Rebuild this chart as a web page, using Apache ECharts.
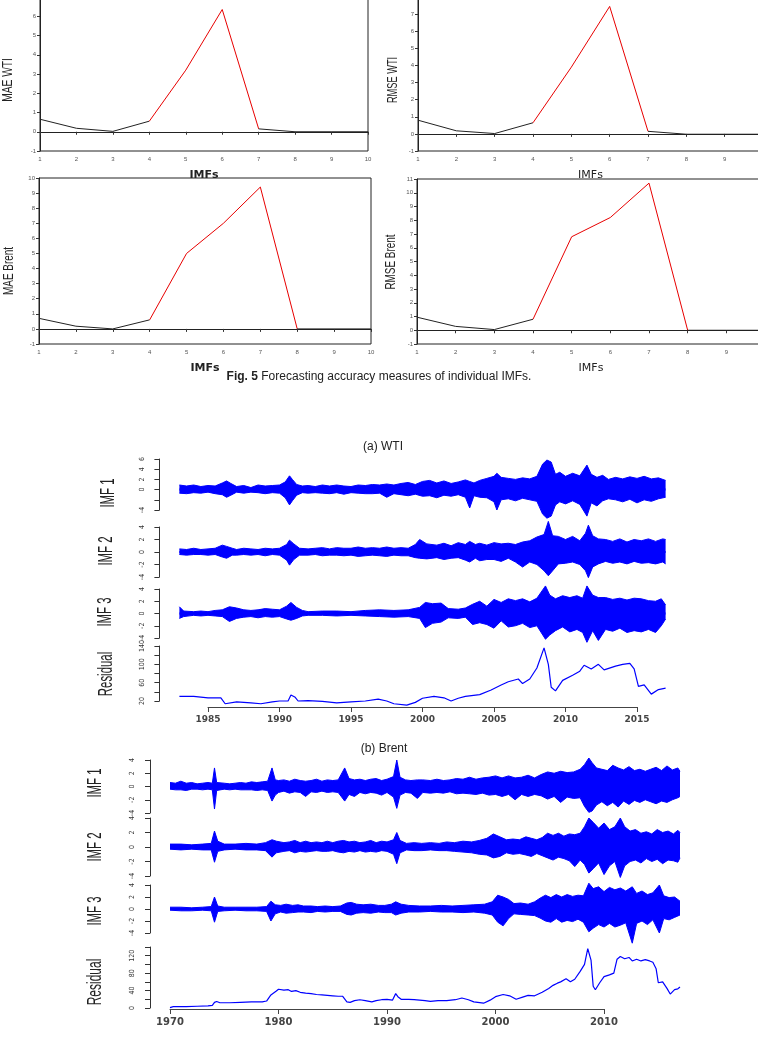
<!DOCTYPE html>
<html>
<head>
<meta charset="utf-8">
<script src="https://cdn.jsdelivr.net/npm/echarts@6/dist/echarts.min.js"></script>
<style>
  html, body { margin: 0; padding: 0; background: #fff; }
  #main { width: 758px; height: 1040px; }
</style>
</head>
<body>
<div id="main"></div>
<script>
// Fig. 5: error per IMF (top four panels) + the IMF/residual strips for WTI and Brent

const imfs = [1, 2, 3, 4, 5, 6, 7, 8, 9, 10];
const maeWti = [0.65, 0.18, 0.02, 0.55, 3.2, 6.35, 0.15, 0, 0, 0];
const rmseWti = [0.8, 0.18, 0.02, 0.65, 3.9, 7.45, 0.15, -0.02, -0.02, -0.02];
const maeBrent = [0.7, 0.18, 0.0, 0.6, 5.0, 7.0, 9.4, 0, 0, 0];
const rmseBrent = [0.95, 0.28, 0.05, 0.8, 6.8, 8.2, 10.7, 0, 0, 0];
const wtiRedSpan = [4, 7];    // segment drawn in red
const brentRedSpan = [4, 8];

// IMF strips: [year, upper envelope, lower envelope]
const wtiImf1 = [
  [1983.0, 0.9, -0.7], [1983.5, 0.7, -0.8], [1984.0, 0.9, -0.6], [1984.5, 0.6, -0.7],
  [1985.0, 0.8, -0.5], [1985.5, 0.7, -0.8], [1986.0, 1.3, -1.0], [1986.3, 1.7, -1.5],
  [1986.6, 1.2, -1.1], [1987.0, 0.6, -0.5], [1987.5, 0.8, -0.7], [1988.0, 0.4, -0.5],
  [1988.5, 0.9, -0.6], [1989.0, 0.7, -0.8], [1989.5, 0.8, -0.6], [1990.0, 0.9, -0.7],
  [1990.4, 1.5, -1.6], [1990.7, 2.7, -3.0], [1990.9, 2.0, -2.2], [1991.2, 1.0, -1.1],
  [1991.6, 0.7, -0.6], [1992.0, 0.8, -0.7], [1992.5, 0.6, -0.6], [1993.0, 0.9, -0.7],
  [1993.5, 0.7, -0.8], [1994.0, 0.9, -0.6], [1994.5, 0.7, -0.9], [1995.0, 0.6, -0.6],
  [1995.5, 0.9, -0.7], [1996.0, 0.8, -0.8], [1996.5, 1.0, -0.8], [1997.0, 0.9, -0.7],
  [1997.5, 1.1, -1.5], [1998.0, 0.9, -0.8], [1998.5, 1.2, -1.0], [1999.0, 1.4, -1.2],
  [1999.5, 1.0, -0.9], [2000.0, 1.6, -1.3], [2000.5, 1.8, -1.2], [2001.0, 1.3, -1.6],
  [2001.5, 1.7, -1.1], [2002.0, 1.2, -1.3], [2002.5, 1.5, -1.0], [2003.0, 1.9, -1.5],
  [2003.3, 1.6, -3.6], [2003.6, 1.3, -1.2], [2004.0, 1.8, -1.5], [2004.5, 2.2, -1.6],
  [2005.0, 2.6, -2.4], [2005.2, 3.2, -4.0], [2005.5, 2.4, -2.0], [2006.0, 2.2, -1.8],
  [2006.5, 2.0, -2.2], [2007.0, 2.3, -1.7], [2007.5, 2.1, -2.0], [2008.0, 2.6, -2.3],
  [2008.4, 5.0, -4.8], [2008.7, 5.8, -5.6], [2009.0, 5.4, -5.2], [2009.3, 3.0, -3.0],
  [2009.6, 3.4, -2.4], [2010.0, 2.6, -2.8], [2010.5, 3.2, -2.2], [2011.0, 2.7, -2.9],
  [2011.5, 4.8, -5.2], [2011.8, 3.0, -2.6], [2012.2, 2.4, -3.2], [2012.6, 2.8, -2.2],
  [2013.0, 2.0, -1.8], [2013.5, 2.4, -2.0], [2014.0, 2.1, -2.4], [2014.5, 2.5, -1.9],
  [2015.0, 2.2, -2.6], [2015.5, 2.6, -2.0], [2016.0, 2.1, -2.3], [2016.5, 2.3, -1.8],
  [2017.0, 1.8, -1.5]
];
const wtiImf2 = [
  [1983.0, 0.5, -0.4], [1983.5, 0.4, -0.5], [1984.0, 0.6, -0.4], [1984.5, 0.4, -0.4],
  [1985.0, 0.5, -0.5], [1985.5, 0.6, -0.4], [1986.0, 1.1, -0.8], [1986.3, 0.9, -1.0],
  [1986.7, 0.6, -0.5], [1987.0, 0.4, -0.5], [1987.5, 0.6, -0.4], [1988.0, 0.5, -0.5],
  [1988.5, 0.4, -0.4], [1989.0, 0.6, -0.6], [1989.5, 0.5, -0.4], [1990.0, 0.6, -0.5],
  [1990.5, 1.2, -1.3], [1990.7, 1.9, -2.1], [1991.0, 1.3, -1.2], [1991.4, 0.6, -0.5],
  [1992.0, 0.5, -0.5], [1992.5, 0.6, -0.4], [1993.0, 0.7, -0.6], [1993.5, 0.5, -0.5],
  [1994.0, 0.7, -0.5], [1994.5, 0.6, -0.6], [1995.0, 0.6, -0.5], [1995.5, 0.8, -0.7],
  [1996.0, 0.6, -0.6], [1996.5, 0.7, -0.5], [1997.0, 0.6, -0.6], [1997.5, 0.8, -0.7],
  [1998.0, 0.6, -0.5], [1998.5, 0.7, -0.6], [1999.0, 0.6, -0.6], [1999.5, 1.2, -0.9],
  [1999.8, 2.0, -1.0], [2000.3, 1.3, -1.1], [2001.0, 1.1, -0.9], [2001.5, 1.4, -1.2],
  [2002.0, 1.0, -1.0], [2002.5, 1.5, -0.9], [2003.0, 1.2, -1.3], [2003.3, 1.7, -1.6],
  [2003.7, 1.2, -1.0], [2004.0, 1.4, -1.4], [2004.5, 1.1, -1.2], [2005.0, 1.5, -1.2],
  [2005.5, 1.3, -1.5], [2006.0, 1.4, -1.0], [2006.5, 1.2, -1.6], [2007.0, 1.6, -2.4],
  [2007.5, 1.8, -1.6], [2008.0, 2.4, -2.0], [2008.5, 2.8, -3.0], [2008.8, 4.9, -3.8],
  [2009.1, 2.6, -3.0], [2009.5, 2.5, -1.9], [2010.0, 2.0, -1.8], [2010.5, 2.5, -1.6],
  [2011.0, 1.8, -2.0], [2011.4, 3.0, -3.0], [2011.6, 4.3, -4.1], [2011.9, 2.6, -2.4],
  [2012.3, 2.1, -1.9], [2012.8, 2.0, -1.5], [2013.3, 1.7, -1.8], [2013.8, 2.1, -1.6],
  [2014.3, 1.6, -1.9], [2014.8, 2.0, -1.5], [2015.3, 1.8, -1.8], [2015.8, 2.1, -1.7],
  [2016.3, 1.7, -1.9], [2016.8, 2.1, -1.6], [2017.0, 2.0, -1.9]
];
const wtiImf3 = [
  [1983.0, 1.1, -0.8], [1983.3, 0.4, -0.5], [1984.0, 0.3, -0.3], [1984.5, 0.4, -0.4],
  [1985.0, 0.3, -0.3], [1985.5, 0.5, -0.4], [1986.0, 0.6, -0.5], [1986.5, 1.1, -1.3],
  [1987.0, 0.9, -0.8], [1987.5, 0.6, -0.6], [1988.0, 0.5, -0.5], [1988.5, 0.6, -0.7],
  [1989.0, 0.8, -0.5], [1989.5, 0.7, -0.6], [1990.0, 0.6, -0.5], [1990.5, 1.2, -0.9],
  [1990.8, 1.8, -1.1], [1991.2, 1.0, -0.8], [1991.6, 0.5, -0.4], [1992.0, 0.3, -0.3],
  [1993.0, 0.4, -0.3], [1994.0, 0.4, -0.4], [1995.0, 0.3, -0.3], [1996.0, 0.5, -0.4],
  [1997.0, 0.6, -0.5], [1998.0, 0.5, -0.6], [1999.0, 0.6, -0.5], [1999.8, 1.0, -0.8],
  [2000.2, 1.8, -2.3], [2000.7, 1.6, -1.6], [2001.3, 1.7, -1.4], [2001.8, 0.8, -0.7],
  [2002.5, 0.7, -0.8], [2003.0, 0.9, -0.6], [2003.5, 1.5, -1.8], [2004.0, 2.0, -1.5],
  [2004.5, 1.2, -1.8], [2005.0, 2.3, -2.4], [2005.5, 1.8, -1.2], [2006.0, 2.4, -2.2],
  [2006.5, 2.1, -2.0], [2007.0, 2.4, -1.6], [2007.5, 1.9, -2.3], [2008.0, 2.5, -2.0],
  [2008.6, 4.5, -4.2], [2008.9, 3.0, -3.5], [2009.3, 2.4, -2.8], [2009.8, 2.9, -2.2],
  [2010.3, 2.6, -3.0], [2010.8, 2.9, -2.6], [2011.2, 2.5, -3.1], [2011.5, 4.5, -4.7],
  [2011.9, 3.0, -2.8], [2012.3, 2.6, -4.4], [2012.8, 2.6, -2.6], [2013.3, 2.3, -2.9],
  [2013.8, 2.5, -2.4], [2014.3, 2.2, -3.1], [2014.8, 2.5, -2.8], [2015.3, 2.4, -3.0],
  [2015.8, 2.1, -2.6], [2016.3, 2.0, -3.1], [2016.7, 2.4, -2.0], [2017.0, 1.4, -0.9]
];
const wtiResidual = [
  [1983.0, 30], [1984.0, 30], [1985.0, 27], [1985.9, 27], [1986.2, 14], [1987.0, 18],
  [1988.0, 16], [1988.7, 14], [1989.5, 18], [1990.0, 20], [1990.6, 20], [1990.8, 33],
  [1991.1, 28], [1991.3, 20], [1992.0, 21], [1993.0, 19], [1994.0, 16], [1995.0, 18],
  [1996.0, 20], [1996.9, 24], [1997.5, 20], [1998.0, 14], [1998.9, 11], [1999.5, 17],
  [2000.0, 26], [2000.8, 30], [2001.5, 27], [2002.0, 20], [2002.5, 26], [2003.0, 30],
  [2004.0, 34], [2004.8, 44], [2005.5, 55], [2006.0, 62], [2006.7, 68], [2007.0, 58],
  [2007.5, 68], [2008.0, 92], [2008.5, 136], [2008.8, 100], [2009.0, 50], [2009.3, 42],
  [2009.8, 65], [2010.5, 76], [2011.0, 85], [2011.3, 98], [2011.8, 90], [2012.3, 100],
  [2012.7, 88], [2013.5, 96], [2014.0, 100], [2014.5, 102], [2014.8, 90], [2015.1, 52],
  [2015.5, 55], [2016.0, 35], [2016.5, 45], [2017.0, 48]
];

const brentImf1 = [
  [1970.0, 0.6, -0.4], [1970.5, 0.5, -0.5], [1971.0, 0.8, -0.5], [1971.5, 0.5, -0.6],
  [1972.0, 0.6, -0.4], [1972.5, 0.4, -0.4], [1973.0, 0.5, -0.5], [1973.5, 0.6, -0.4],
  [1973.9, 0.5, -0.5], [1974.1, 2.8, -3.4], [1974.3, 0.6, -0.6], [1975.0, 0.5, -0.4],
  [1975.5, 0.4, -0.5], [1976.0, 0.5, -0.4], [1976.5, 0.6, -0.5], [1977.0, 0.5, -0.5],
  [1977.5, 0.7, -0.5], [1978.0, 0.6, -0.6], [1978.5, 0.7, -0.5], [1979.0, 0.8, -0.6],
  [1979.4, 2.8, -2.2], [1979.7, 1.0, -1.3], [1980.0, 0.9, -0.9], [1980.5, 1.0, -0.7],
  [1981.0, 0.8, -1.0], [1981.5, 1.1, -0.8], [1982.0, 0.9, -0.9], [1982.5, 0.8, -1.5],
  [1983.0, 0.9, -0.8], [1983.5, 1.1, -0.9], [1984.0, 0.8, -0.7], [1984.5, 1.0, -0.9],
  [1985.0, 0.9, -0.8], [1985.5, 1.0, -0.9], [1986.1, 2.8, -2.2], [1986.5, 1.2, -1.2],
  [1987.0, 1.0, -1.5], [1987.5, 1.1, -0.9], [1988.0, 0.9, -1.1], [1988.5, 1.1, -0.9],
  [1989.0, 1.2, -1.0], [1989.5, 0.9, -1.3], [1990.0, 1.1, -0.9], [1990.6, 1.5, -1.6],
  [1990.9, 4.0, -3.3], [1991.2, 1.4, -1.3], [1991.7, 1.0, -0.9], [1992.2, 0.9, -1.0],
  [1992.8, 1.0, -1.8], [1993.3, 1.0, -0.9], [1994.0, 0.9, -1.0], [1994.6, 1.1, -0.9],
  [1995.2, 0.9, -1.0], [1995.8, 1.0, -0.8], [1996.4, 1.2, -1.1], [1997.0, 1.1, -1.0],
  [1997.6, 1.4, -1.1], [1998.2, 1.1, -1.2], [1998.8, 1.3, -1.0], [1999.4, 1.4, -1.3],
  [2000.0, 1.6, -1.2], [2000.6, 1.3, -1.5], [2001.2, 1.6, -1.2], [2001.8, 1.3, -2.0],
  [2002.4, 1.4, -1.2], [2003.0, 1.7, -1.5], [2003.6, 1.3, -1.2], [2004.2, 1.8, -1.4],
  [2004.8, 2.2, -1.9], [2005.4, 2.0, -1.5], [2006.0, 2.3, -2.4], [2006.6, 2.1, -1.6],
  [2007.2, 2.2, -1.8], [2007.8, 2.6, -1.7], [2008.2, 3.3, -3.0], [2008.6, 4.3, -3.9],
  [2008.9, 3.6, -3.7], [2009.3, 2.8, -2.8], [2009.8, 2.6, -2.3], [2010.3, 2.4, -2.9],
  [2010.8, 3.2, -2.4], [2011.3, 2.8, -3.1], [2011.8, 2.5, -2.2], [2012.3, 3.0, -2.7],
  [2012.8, 2.4, -2.1], [2013.3, 2.6, -2.4], [2013.8, 2.3, -2.0], [2014.3, 2.6, -2.3],
  [2014.8, 2.9, -2.6], [2015.3, 2.4, -2.2], [2015.8, 3.1, -2.4], [2016.3, 2.5, -2.0],
  [2016.8, 2.8, -1.7], [2017.0, 2.3, -1.5]
];
const brentImf2 = [
  [1970.0, 0.4, -0.3], [1971.0, 0.4, -0.4], [1972.0, 0.3, -0.3], [1973.0, 0.4, -0.4],
  [1973.8, 0.5, -0.4], [1974.1, 2.2, -2.1], [1974.4, 0.8, -0.6], [1975.0, 0.4, -0.4],
  [1976.0, 0.4, -0.3], [1977.0, 0.5, -0.4], [1978.0, 0.4, -0.4], [1978.8, 0.6, -0.5],
  [1979.4, 1.0, -1.4], [1979.8, 0.8, -0.8], [1980.5, 0.6, -0.6], [1981.0, 0.7, -0.5],
  [1981.5, 0.9, -0.8], [1982.0, 0.6, -0.6], [1982.5, 0.8, -0.7], [1983.0, 0.6, -0.6],
  [1983.5, 0.7, -0.5], [1984.0, 0.6, -0.6], [1984.5, 0.8, -0.6], [1985.0, 0.6, -0.5],
  [1985.5, 0.8, -0.7], [1986.0, 0.9, -0.8], [1986.5, 0.7, -0.6], [1987.0, 0.8, -0.7],
  [1987.5, 0.6, -0.5], [1988.0, 0.7, -0.7], [1988.5, 0.9, -0.6], [1989.0, 0.6, -0.7],
  [1989.5, 0.8, -0.5], [1990.0, 0.7, -0.6], [1990.6, 1.0, -1.0], [1990.9, 2.0, -2.3],
  [1991.2, 0.9, -0.8], [1991.8, 0.5, -0.4], [1992.5, 0.6, -0.5], [1993.2, 0.5, -0.5],
  [1994.0, 0.6, -0.4], [1994.8, 0.5, -0.5], [1995.5, 0.7, -0.5], [1996.2, 0.6, -0.6],
  [1997.0, 0.8, -0.7], [1997.8, 0.7, -0.8], [1998.5, 0.9, -1.0], [1999.2, 1.2, -1.1],
  [1999.8, 1.8, -1.5], [2000.4, 1.4, -1.3], [2001.0, 1.0, -0.8], [2001.6, 1.1, -1.0],
  [2002.2, 1.0, -0.9], [2002.8, 1.4, -1.1], [2003.3, 1.2, -1.3], [2003.8, 1.0, -0.9],
  [2004.3, 1.3, -1.2], [2004.8, 1.9, -1.5], [2005.3, 1.6, -1.8], [2005.8, 1.9, -1.4],
  [2006.3, 1.5, -1.6], [2006.8, 1.8, -1.9], [2007.3, 1.7, -2.7], [2007.8, 1.9, -1.8],
  [2008.2, 2.8, -2.4], [2008.6, 4.0, -3.6], [2009.0, 3.4, -3.0], [2009.5, 2.6, -2.2],
  [2010.0, 3.3, -3.8], [2010.5, 2.4, -2.6], [2011.0, 2.8, -2.0], [2011.5, 4.0, -4.2],
  [2011.9, 2.8, -2.6], [2012.4, 2.2, -2.0], [2012.9, 2.4, -1.8], [2013.4, 1.9, -2.2],
  [2013.9, 2.1, -1.6], [2014.4, 1.8, -2.0], [2014.9, 2.4, -1.7], [2015.4, 2.0, -2.3],
  [2015.9, 2.2, -1.8], [2016.4, 1.8, -1.9], [2016.8, 2.3, -2.1], [2017.0, 2.0, -1.5]
];
const brentImf3 = [
  [1970.0, 0.3, -0.2], [1971.0, 0.3, -0.3], [1972.0, 0.2, -0.3], [1973.0, 0.3, -0.2],
  [1973.8, 0.4, -0.3], [1974.1, 2.0, -2.2], [1974.4, 0.5, -0.4], [1975.0, 0.3, -0.3],
  [1976.0, 0.3, -0.2], [1977.0, 0.3, -0.3], [1978.0, 0.3, -0.3], [1978.9, 0.4, -0.4],
  [1979.3, 1.3, -2.0], [1979.7, 0.7, -0.8], [1980.2, 0.6, -0.5], [1980.7, 0.8, -0.7],
  [1981.3, 0.6, -0.6], [1981.8, 0.7, -0.5], [1982.3, 0.5, -0.5], [1983.0, 0.5, -0.6],
  [1983.6, 0.4, -0.4], [1984.3, 0.5, -0.5], [1985.0, 0.4, -0.4], [1985.7, 0.5, -0.4],
  [1986.3, 1.0, -0.9], [1986.7, 1.1, -1.0], [1987.2, 0.8, -0.7], [1987.8, 0.7, -0.6],
  [1988.5, 0.8, -0.7], [1989.2, 0.6, -0.5], [1989.8, 0.6, -0.6], [1990.4, 0.8, -0.6],
  [1990.8, 1.2, -1.0], [1991.3, 0.8, -0.7], [1992.0, 0.6, -0.5], [1993.0, 0.5, -0.5],
  [1994.0, 0.5, -0.4], [1995.0, 0.6, -0.5], [1996.0, 0.5, -0.5], [1997.0, 0.6, -0.6],
  [1998.0, 0.7, -0.5], [1999.0, 0.8, -0.7], [1999.7, 1.2, -1.0], [2000.2, 2.3, -2.2],
  [2000.7, 2.0, -2.8], [2001.2, 1.6, -1.6], [2001.7, 0.9, -0.8], [2002.3, 1.0, -0.9],
  [2003.0, 0.8, -1.0], [2003.6, 1.2, -1.1], [2004.1, 1.8, -1.5], [2004.6, 2.3, -2.0],
  [2005.1, 1.9, -2.2], [2005.6, 2.4, -1.6], [2006.1, 2.0, -2.2], [2006.6, 2.4, -1.9],
  [2007.1, 2.1, -2.1], [2007.6, 2.3, -1.7], [2008.1, 2.2, -2.2], [2008.6, 4.3, -3.8],
  [2009.0, 3.4, -3.2], [2009.5, 3.7, -2.6], [2010.0, 2.9, -3.0], [2010.5, 3.6, -2.4],
  [2011.0, 3.2, -3.0], [2011.5, 3.5, -2.7], [2012.0, 3.0, -2.3], [2012.6, 3.7, -5.7],
  [2013.0, 2.6, -2.4], [2013.5, 3.0, -2.0], [2014.0, 2.4, -2.6], [2014.5, 2.7, -1.8],
  [2015.1, 4.0, -4.0], [2015.5, 2.2, -1.6], [2016.0, 1.9, -1.8], [2016.5, 2.0, -1.4],
  [2017.0, 1.3, -1.0]
];
const brentResidual = [
  [1970.0, 1], [1970.3, 3], [1971.5, 3], [1972.5, 4], [1973.5, 5], [1973.9, 6],
  [1974.1, 13], [1974.3, 15], [1974.6, 12], [1975.5, 12], [1976.5, 13], [1977.5, 14],
  [1978.5, 14], [1978.9, 16], [1979.3, 30], [1979.8, 39], [1980.0, 43], [1980.5, 41],
  [1980.9, 42], [1981.2, 38], [1981.6, 40], [1982.0, 36], [1982.5, 34], [1983.0, 33],
  [1983.5, 31], [1984.0, 30], [1984.5, 29], [1985.0, 28], [1985.5, 27], [1985.9, 27],
  [1986.3, 14], [1986.6, 13], [1987.0, 17], [1987.5, 19], [1988.0, 17], [1988.6, 14],
  [1989.0, 17], [1989.5, 19], [1990.0, 20], [1990.5, 18], [1990.8, 33], [1991.0, 26],
  [1991.3, 20], [1992.0, 20], [1992.5, 19], [1993.5, 17], [1994.0, 15], [1994.7, 17],
  [1995.5, 17], [1996.3, 19], [1996.9, 23], [1997.5, 19], [1998.0, 14], [1998.9, 11],
  [1999.5, 18], [2000.0, 26], [2000.7, 31], [2001.3, 28], [2001.9, 20], [2002.5, 25],
  [2003.0, 29], [2003.6, 28], [2004.3, 36], [2004.9, 45], [2005.3, 52], [2005.7, 57],
  [2006.0, 60], [2006.5, 67], [2006.9, 60], [2007.3, 66], [2007.8, 84], [2008.2, 100],
  [2008.5, 136], [2008.8, 110], [2009.0, 50], [2009.2, 42], [2009.6, 58], [2010.0, 72],
  [2010.5, 76], [2010.9, 80], [2011.2, 112], [2011.5, 118], [2011.9, 113], [2012.3, 116],
  [2012.6, 108], [2013.0, 112], [2013.4, 108], [2013.8, 111], [2014.2, 108], [2014.5, 105],
  [2014.8, 90], [2015.0, 58], [2015.4, 60], [2015.8, 45], [2016.1, 32], [2016.5, 42],
  [2016.8, 44], [2017.0, 48]
];

// tick labels printed on each strip (R drops the ones that would collide)
const wtiImf1Labels = [-4, 0, 2, 4, 6];
const stripLabels = [-4, -2, 0, 2, 4];
const wtiResidLabels = [20, 60, 100, 140];
const brentResidLabels = [0, 40, 80, 120];

const BLUE = '#0000ff';
const grid = [], xAxis = [], yAxis = [], series = [];

const tinyLabel = { fontSize: 6, color: '#555', fontFamily: 'Liberation Sans, Arial, sans-serif' };

// v6 pushes grids inward so labels fit; this figure wants the boxes exactly where they are
const addGrid = box => grid.push(Object.assign({ outerBoundsMode: 'none', containLabel: false }, box)) - 1;

function accuracyPanel(box, values, redSpan, yMax, boldName) {
  const g = addGrid(Object.assign({ show: true, borderColor: '#222', borderWidth: 1 }, box));
  xAxis.push({
    gridIndex: g, type: 'value', min: 1, max: 10, interval: 1,
    name: 'IMFs', nameLocation: 'middle', nameGap: 19,
    nameTextStyle: { fontSize: 11, fontWeight: boldName ? 'bold' : 'normal', fontFamily: 'DejaVu Sans', color: '#222' },
    axisLine: { lineStyle: { color: '#222' } },
    axisTick: { length: 3, lineStyle: { color: '#333' } },
    axisLabel: Object.assign({ margin: 5 }, tinyLabel),
    splitLine: { show: false }
  });
  yAxis.push({
    gridIndex: g, type: 'value', min: -1, max: yMax, interval: 1,
    axisLine: { show: true, lineStyle: { color: '#222' } },
    axisTick: { show: true, length: 3, lineStyle: { color: '#333' } },
    axisLabel: Object.assign({ margin: 4 }, tinyLabel),
    splitLine: { show: false }
  });
  const pts = imfs.map((x, i) => [x, values[i]]);
  const [a, b] = redSpan;
  const seg = (data, color) => ({
    type: 'line', xAxisIndex: g, yAxisIndex: g, data, symbol: 'none',
    lineStyle: { color, width: 1 }, silent: true
  });
  series.push(seg(pts.filter(p => p[0] <= a), '#222'));
  series.push(seg(pts.filter(p => p[0] >= a && p[0] <= b), '#e80000'));
  series.push(seg(pts.filter(p => p[0] >= b), '#222'));
}

function stripY(g, min, max, step, labels) {
  return {
    gridIndex: g, type: 'value', min, max, interval: step, position: 'left', offset: 20,
    axisLine: { show: true, lineStyle: { color: '#333' } },
    axisTick: { show: true, length: 5, lineStyle: { color: '#333' } },
    axisLabel: {
      rotate: 90, margin: 14, fontSize: 7, color: '#333',
      fontFamily: 'Liberation Sans Narrow, DejaVu Sans Condensed, sans-serif',
      formatter: v => labels.includes(v) ? String(v) : ''
    },
    splitLine: { show: false }
  };
}

function imfStrip(box, xr, rows, yr, labels) {
  const g = addGrid(box);
  xAxis.push({ gridIndex: g, type: 'value', min: xr[0], max: xr[1], show: false });
  yAxis.push(stripY(g, yr[0], yr[1], yr[2], labels));
  const edge = col => ({
    type: 'line', xAxisIndex: g, yAxisIndex: g, symbol: 'none', clip: false, silent: true,
    data: rows.map(r => [r[0], r[col]]),
    lineStyle: { color: BLUE, width: 1 },
    areaStyle: { color: BLUE, opacity: 1, origin: 'auto' }
  });
  series.push(edge(1), edge(2));
  // the two fills meet at zero and leave a hairline; cover it
  series.push({
    type: 'line', xAxisIndex: g, yAxisIndex: g, symbol: 'none', silent: true,
    data: [[rows[0][0], 0], [rows[rows.length - 1][0], 0]],
    lineStyle: { color: BLUE, width: 2 }
  });
}

function residualStrip(box, xr, rows, yr, labels) {
  const g = addGrid(box);
  xAxis.push({ gridIndex: g, type: 'value', min: xr[0], max: xr[1], show: false });
  yAxis.push(stripY(g, yr[0], yr[1], yr[2], labels));
  series.push({
    type: 'line', xAxisIndex: g, yAxisIndex: g, symbol: 'none', clip: false, silent: true,
    data: rows, lineStyle: { color: BLUE, width: 1.2 }
  });
}

function timeAxis(box, min, max, step, fontSize) {
  const g = addGrid(box);
  xAxis.push({
    gridIndex: g, type: 'value', min, max, interval: step, position: 'bottom',
    axisLine: { lineStyle: { color: '#444' } },
    axisTick: { length: 5, lineStyle: { color: '#444' } },
    axisLabel: { fontSize, fontWeight: 'bold', color: '#444', margin: 8, fontFamily: 'DejaVu Sans', formatter: v => String(v) },
    splitLine: { show: false }
  });
  yAxis.push({ gridIndex: g, type: 'value', show: false, min: 0, max: 1 });
}

// top: accuracy per IMF
accuracyPanel({ left: 40, top: -3, width: 328, height: 154 }, maeWti, wtiRedSpan, 7, true);
accuracyPanel({ left: 418, top: -3, width: 345, height: 154 }, rmseWti, wtiRedSpan, 8, false);
accuracyPanel({ left: 39, top: 178, width: 332, height: 166 }, maeBrent, brentRedSpan, 10, true);
accuracyPanel({ left: 417, top: 179, width: 348, height: 165 }, rmseBrent, brentRedSpan, 11, false);

// (a) WTI strips, 1983-2017
const wtiX = [1983, 2017];
const wtiBox = (top, height) => ({ left: 179.4, width: 486.2, top, height });
imfStrip(wtiBox(459, 51), wtiX, wtiImf1, [-4, 6, 2], wtiImf1Labels);
imfStrip(wtiBox(527, 50), wtiX, wtiImf2, [-4, 4, 2], stripLabels);
imfStrip(wtiBox(589, 49), wtiX, wtiImf3, [-4, 4, 2], stripLabels);
residualStrip(wtiBox(646, 55), wtiX, wtiResidual, [20, 140, 20], wtiResidLabels);
timeAxis({ left: 208, width: 429, top: 690, height: 17 }, 1985, 2015, 5, 9);

// (b) Brent strips, 1970-2017
const brentX = [1970, 2017];
const brentBox = (top, height) => ({ left: 170, width: 510, top, height });
imfStrip(brentBox(760, 53), brentX, brentImf1, [-4, 4, 2], stripLabels);
imfStrip(brentBox(818, 58), brentX, brentImf2, [-4, 4, 2], stripLabels);
imfStrip(brentBox(885, 48), brentX, brentImf3, [-4, 4, 2], stripLabels);
residualStrip(brentBox(947, 61), brentX, brentResidual, [0, 140, 20], brentResidLabels);
timeAxis({ left: 170, width: 434, top: 990, height: 19 }, 1970, 2010, 10, 10);

// rotated, squeezed axis titles (R-style narrow lettering)
const vText = (x, y, text, size, squeeze) => ({
  type: 'text', x, y, rotation: Math.PI / 2, scaleX: squeeze, silent: true,
  style: { text, fontSize: size, fontFamily: 'Liberation Sans, Arial, sans-serif', fill: '#222', align: 'center', verticalAlign: 'middle' }
});
const hText = (x, y, text, size) => ({
  type: 'text', x, y, silent: true,
  style: { text, fontSize: size, fontFamily: 'Liberation Sans, Arial, sans-serif', fill: '#222', align: 'center', verticalAlign: 'middle' }
});

const graphic = [
  vText(8, 80, 'MAE WTI', 14, 0.73),
  vText(393, 80, 'RMSE WTI', 14, 0.66),
  vText(9, 271, 'MAE Brent', 14, 0.71),
  vText(391, 262, 'RMSE Brent', 14, 0.71),
  {
    type: 'text', x: 379, y: 377, silent: true,
    style: {
      text: '{b|Fig. 5} Forecasting accuracy measures of individual IMFs.',
      fontSize: 12, fontFamily: 'Liberation Sans, Arial, sans-serif', fill: '#222',
      align: 'center', verticalAlign: 'middle',
      rich: { b: { fontWeight: 'bold', fontSize: 12, fontFamily: 'Liberation Sans, Arial, sans-serif', fill: '#222' } }
    }
  },
  hText(383, 447, '(a) WTI', 12),
  vText(108, 493, 'IMF 1', 20, 0.57),
  vText(106, 551, 'IMF 2', 20, 0.57),
  vText(105, 612, 'IMF 3', 20, 0.57),
  vText(106, 674, 'Residual', 20, 0.57),
  hText(384, 749, '(b) Brent', 12),
  vText(95, 783, 'IMF 1', 20, 0.57),
  vText(95, 847, 'IMF 2', 20, 0.57),
  vText(95, 911, 'IMF 3', 20, 0.57),
  vText(95, 982, 'Residual', 20, 0.6)
];

const chart = echarts.init(document.getElementById('main'), null, { renderer: 'canvas' });
chart.setOption({
  animation: false,
  backgroundColor: '#fff',
  grid, xAxis, yAxis, series, graphic
});
</script>
</body>
</html>
